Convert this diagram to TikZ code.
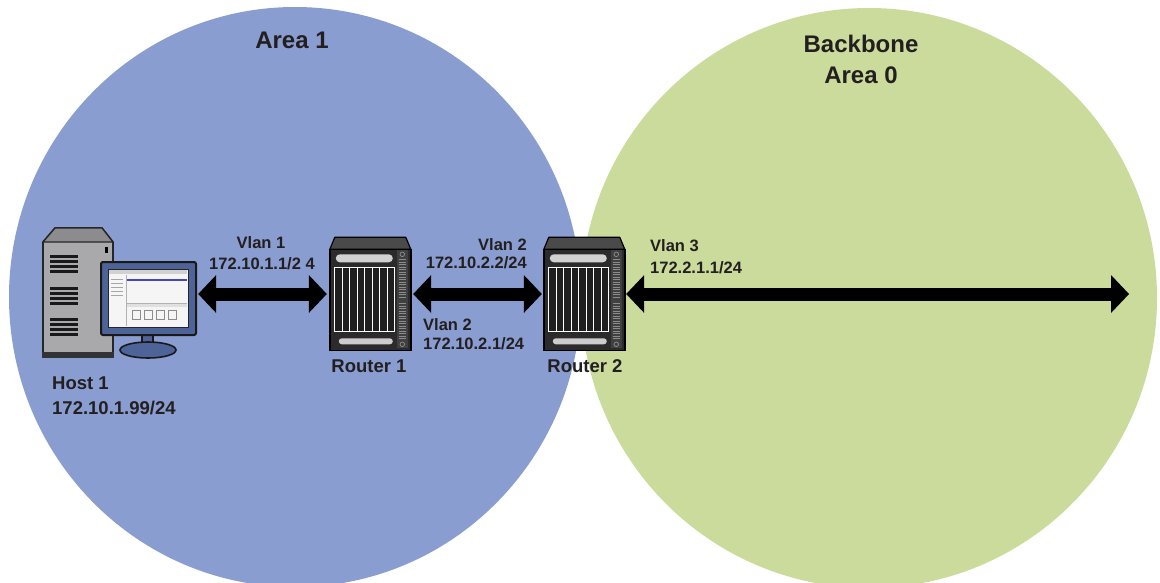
\documentclass[tikz,border=0pt]{standalone}
\usepackage{fontspec}
\setmainfont{Liberation Sans}
\usetikzlibrary{arrows.meta}

\definecolor{areablue}{HTML}{8A9DD0}
\definecolor{areagreen}{HTML}{CBDB9C}
\definecolor{ink}{HTML}{231F20}
\definecolor{monblue}{HTML}{4E6397}
\definecolor{towergray}{HTML}{A9A9AB}
\definecolor{towertop}{HTML}{8C8C8E}
\definecolor{chassis}{HTML}{2B2B2B}
\definecolor{chassistop}{HTML}{4A4A4A}

\tikzset{
  areatitle/.style={font=\fontsize{24}{28}\selectfont\bfseries, text=ink, inner sep=0pt, anchor=base},
  devlabel/.style={font=\fontsize{18.5}{22}\selectfont\bfseries, text=ink, inner sep=0pt},
  iflabel/.style={font=\fontsize{16.5}{20}\selectfont\bfseries, text=ink, inner sep=0pt},
  devbox/.style={draw=none, fill=none, inner sep=0pt, rectangle},
  link/.style={line width=13pt,
    {Triangle[length=18pt,width=38pt,line width=0pt]}-{Triangle[length=18pt,width=38pt,line width=0pt]}},
  pics/router/.style={code={
    % top bevel and chassis
    \filldraw[fill=chassistop, draw=black, line width=1.2pt, line join=round]
      (0,12) -- (5,0) -- (76,0) -- (81,12) -- cycle;
    \filldraw[fill=chassis, draw=black, line width=1.4pt] (0,12) rectangle (81,113);
    % upper and lower handle bars
    \fill[black!18, rounded corners=4pt] (6,17) rectangle (63,25);
    \fill[black!20, rounded corners=3pt] (9,101) rectangle (63,107);
    % line cards
    \foreach \i in {0,...,7}
      \draw[white, line width=0.9pt, fill=black!88] (5+\i*7.5,30) rectangle ++(7.5,64);
    % side panel with fan grille
    \fill[black!75] (67,13) rectangle (78,111);
    \foreach \t in {22,24.5,...,60}
      \draw[black!45, line width=0.6pt] (69,\t) -- (76,\t);
    \foreach \t in {66,68.5,...,102}
      \draw[black!45, line width=0.6pt] (69,\t) -- (76,\t);
    \draw[black!45, line width=0.7pt] (72.5,17) circle (2.3);
    \draw[black!45, line width=0.7pt] (72.5,107) circle (2.3);
  }}
}

\begin{document}
\begin{tikzpicture}[x=1pt,y=-1pt]
\useasboundingbox (0,0) rectangle (1160,582);

% OSPF areas
\begin{scope}
  \clip (0,0) rectangle (1160,582);
  \fill[areablue] (295,297) ellipse [x radius=286, y radius=290];
  \fill[areagreen] (869,298) ellipse [x radius=288, y radius=290];
\end{scope}

\node[areatitle] (area1) at (292,48) {Area 1};
\node[areatitle] (backbone) at (861,52) {Backbone};
\node[areatitle] (area0) at (861,83) {Area 0};

% device placeholders used by the links
\node[devbox, minimum width=153pt, minimum height=130pt] (host) at (119.5,294) {};
\node[devbox, minimum width=81pt, minimum height=113pt] (r1) at (370.5,294) {};
\node[devbox, minimum width=81pt, minimum height=113pt] (r2) at (584.5,294) {};
\coordinate (wan) at (1129,294);

% host: tower
\filldraw[fill=towergray, draw=black!85, line width=1.6pt, line join=round]
  (43,242) -- (55,228) -- (102,228) -- (113,242) -- (113,353) -- (43,353) -- cycle;
\filldraw[fill=towertop, draw=black!85, line width=1.3pt, line join=round]
  (43,242) -- (55,228) -- (102,228) -- (113,242) -- cycle;
\fill[black!80] (42,352) rectangle (114,358);
\fill[black] (105,247) rectangle (108,253);
\foreach \g in {255,287,318}
  \foreach \s in {0,5,10,15}
    \fill[black!90] (50,\g+\s) rectangle (78,\g+\s+3);

% host: monitor
\filldraw[fill=monblue, draw=black!90, line width=1.6pt] (142,334) rectangle (153,347);
\filldraw[fill=monblue, draw=black!90, line width=1.6pt] (148,350) ellipse [x radius=28, y radius=8];
\filldraw[fill=monblue, draw=black!90, line width=2pt, rounded corners=2pt] (101,262) rectangle (196,335);
\filldraw[fill=black!4, draw=black!85, line width=1pt] (108,269) rectangle (188,327);
\fill[black!18] (109,270) rectangle (187,274);
\draw[blue!45!gray, line width=1.2pt] (127,280) -- (187,280);
\draw[black!30, line width=0.6pt] (126,275) -- (126,326);
\foreach \t in {279,283,287,291,295}
  \draw[black!35, line width=0.6pt] (111,\t) -- (123,\t);
\draw[black!30, line width=0.8pt] (127,303) -- (187,303);
\fill[black!12] (127,304) rectangle (187,307);
\foreach \u in {132,144,156,168}
  \draw[black!45, line width=0.6pt] (\u,310) rectangle ++(8,9);

% routers
\pic at (r1.north west) {router};
\pic at (r2.north west) {router};

% links
\draw[link, shorten <=2pt, shorten >=3pt] (host.east) -- (r1.west);
\draw[link, shorten <=2pt, shorten >=2pt] (r1.east) -- (r2.west);
\draw[link, shorten <=1pt] (r2.east) -- (wan);

% labels
\node[devlabel, anchor=base west] (hostname) at (52,389) {Host 1};
\node[devlabel, anchor=base west] (hostip) at (52,414) {172.10.1.99/24};
\node[devlabel, anchor=base] (r1name) at (369,372) {Router 1};
\node[devlabel, anchor=base] (r2name) at (585,372) {Router 2};

\node[iflabel, anchor=base] (v1a) at (261,248) {Vlan 1};
\node[iflabel, anchor=base] (v1b) at (262,269) {172.10.1.1/2 4};
\node[iflabel, anchor=base east] (v2a) at (527,250) {Vlan 2};
\node[iflabel, anchor=base east] (v2b) at (527,268) {172.10.2.2/24};
\node[iflabel, anchor=base west] (v2c) at (423,330) {Vlan 2};
\node[iflabel, anchor=base west] (v2d) at (423,349) {172.10.2.1/24};
\node[iflabel, anchor=base west] (v3a) at (650,251) {Vlan 3};
\node[iflabel, anchor=base west] (v3b) at (650,273) {172.2.1.1/24};
\end{tikzpicture}
\end{document}
